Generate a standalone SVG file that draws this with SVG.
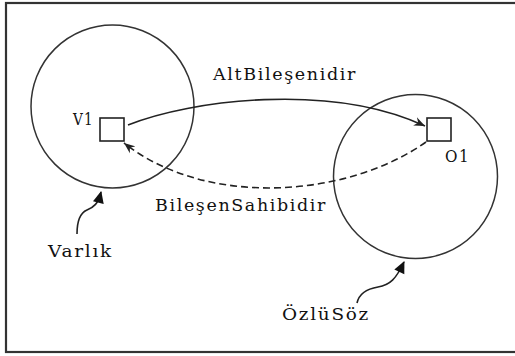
<svg xmlns="http://www.w3.org/2000/svg" width="515" height="356" viewBox="0 0 515 356">
  <defs>
    <style>
      .frame { fill: #ffffff; stroke: #333333; stroke-width: 2.2; }
      .ring { fill: none; stroke: #333333; stroke-width: 1.5; }
      .box { fill: #ffffff; stroke: #222222; stroke-width: 1.6; }
      .link { fill: none; stroke: #222222; stroke-width: 1.6; }
      .dash { stroke-dasharray: 7 4; }
      .label { font-family: "DejaVu Serif", "Liberation Serif", serif; font-size: 16px; letter-spacing: 1.5px; fill: #111111; }
    </style>
    <marker id="barb" viewBox="0 0 12 10" refX="11" refY="5" markerWidth="12" markerHeight="10" markerUnits="userSpaceOnUse" orient="auto">
      <path d="M0,0.5 L11,5 L0,9.5 L3.5,5 Z" fill="#222222"/>
    </marker>
    <marker id="tip" viewBox="0 0 12 12" refX="11" refY="6" markerWidth="13" markerHeight="12" markerUnits="userSpaceOnUse" orient="auto">
      <path d="M0,0.5 L12,6 L0,11.5 Z" fill="#111111"/>
    </marker>
  </defs>

  <rect class="frame" x="6" y="3" width="520" height="349"/>

  <g id="varlik">
    <circle class="ring" cx="112.5" cy="106.5" r="81.5"/>
    <text class="label" x="48" y="257" textLength="65" lengthAdjust="spacingAndGlyphs">Varlık</text>
  </g>

  <g id="ozlusoz">
    <circle class="ring" cx="415.5" cy="176.5" r="82"/>
    <text class="label" x="282" y="320" textLength="88" lengthAdjust="spacingAndGlyphs">ÖzlüSöz</text>
  </g>

  <g id="v1">
    <rect class="box" x="100" y="118" width="24" height="23"/>
    <text class="label" x="73" y="125" textLength="21" lengthAdjust="spacingAndGlyphs">V1</text>
  </g>

  <g id="o1">
    <rect class="box" x="427" y="118" width="24" height="23"/>
    <text class="label" x="445" y="162" textLength="25" lengthAdjust="spacingAndGlyphs">O1</text>
  </g>

  <g id="connectors">
    <path class="link" d="M128,125 C190,100 330,82 425,126" marker-end="url(#barb)"/>
    <text class="label" x="213" y="80" textLength="144" lengthAdjust="spacingAndGlyphs">AltBileşenidir</text>
    <path class="link dash" d="M426,142 C345,199 205,207 124,143" marker-end="url(#barb)"/>
    <text class="label" x="155" y="211" textLength="172" lengthAdjust="spacingAndGlyphs">BileşenSahibidir</text>
    <path class="link" d="M77,234 C77,221 80,213 87,210 C94,207 98,204 101,192" marker-end="url(#tip)"/>
    <path class="link" d="M357,303 C359,294 366,289 378,287 C390,285 396,279 404,262" marker-end="url(#tip)"/>
  </g>
</svg>
